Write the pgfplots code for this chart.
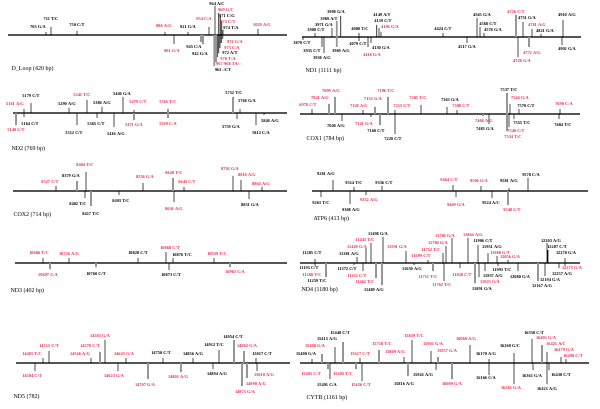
\documentclass[border=0pt]{standalone}
\usepackage{pgfplots}
\pgfplotsset{compat=1.18}
\usepackage{fontspec}
\setmainfont{Liberation Serif}
\definecolor{labelred}{RGB}{232,36,72}
\definecolor{stickgray}{RGB}{150,150,150}
\definecolor{basecol}{RGB}{85,85,85}
\DeclareRobustCommand\R[1]{{\color{labelred}#1}}
\newcommand\lbl{\fontsize{4.4}{4.8}\selectfont\bfseries}
\newcommand\ttl{\fontsize{6}{7}\selectfont}
\pgfplotsset{
  panel/.style={scale only axis, height=120pt, ymin=-60, ymax=60,
    axis x line=middle, axis y line=none, xtick=\empty, ytick=\empty,
    axis line style={-, line width=1.1pt, basecol}, clip=false, anchor=west},
  stickb/.style={ybar, bar width=0.85pt, bar shift=0pt, fill=black, draw=none},
  stickg/.style={ybar, bar width=1.7pt, bar shift=0pt, fill=stickgray, draw=none},
  lbls/.style={only marks, mark=none, nodes near coords, point meta=explicit symbolic,
    every node near coord/.append style={anchor=center, inner sep=0pt, font=\lbl}},
}
\begin{document}
\begin{tikzpicture}
\path[use as bounding box] (0,0) rectangle (600pt,408pt);
% ---------------- D-loop
\def\yB{35}
\begin{axis}[panel, at={(8pt,373pt)}, width=279pt, xmin=8, xmax=287]
\addplot[stickb] table[x=x, y expr=\yB-\thisrow{y}] {
x y
46 32
51 27
77 31
165 32
174 44
188 32
209 27
215 6
218.7 13
220.3 16
221.7 21
223 30
217.3 57
218.7 53
220 48
221.3 43
222.7 39
258 29
};
\addplot[stickg] table[x=x, y expr=\yB-\thisrow{y}] {
x y
201 42
203 44
214.3 66
216 62
};
\addplot[lbls] table[x=x, y expr=\yB-\thisrow{y}, meta=l, col sep=comma] {
x,y,l
38,27,703 G/A
51,19,711 T/C
77,25,750 C/T
164,26,\R{886 A/G}
172,51,\R{901 G/A}
188,27,921 G/A
194,47,945 C/A
200,54,942 G/A
204,19,\R{954 C/A}
217,4,964 A/C
226,10,\R{969 G/C}
227,16,971 C/G
228,22,\R{973 C/T}
231,28,974 T/A
235,42,\R{976 G/A}
232,48,\R{975 C/A}
230,53,972 A/T
228,59,\R{970 T/A}
229,64,\R{967-968 TA/-{}-}
223,70,963 -/CT
262,25.5,\R{1029 A/G}
};
\node[font=\ttl, anchor=west] at (axis cs:8,-34) {D\_Loop (420 bp)};
\end{axis}
% ---------------- ND1
\def\yB{37}
\begin{axis}[panel, at={(302pt,371pt)}, width=279pt, xmin=302, xmax=581]
\addplot[stickb] table[x=x, y expr=\yB-\thisrow{y}] {
x y
303 40
315 33
322 47
324 53
332 28
340.7 16
359 33
359 41
368 47
371 43
376.7 25
379 28
381 32
443 33
467 43
477 18
480 27
484 33
518 57
523 22
532 29
541 34
563 20
562 45
};
\addplot[stickg] table[x=x, y expr=\yB-\thisrow{y}] {
x y
336.7 21
336.7 47
516 15
529 47
};
\addplot[lbls] table[x=x, y expr=\yB-\thisrow{y}, meta=l, col sep=comma] {
x,y,l
302,43,3870 C/T
316,30,3900 C/T
324,25,3971 G/A
329,19,3989 A/T
336,12,3998 G/A
312,51,3935 C/T
322,58,3938 A/G
341,51,3989 A/G
360,29,4080 T/C
358,44,4079 C/T
372,55,\R{4118 G/A}
381,48,4130 G/A
382,15,4149 A/T
383,21,4159 C/T
390,27,\R{4196 G/A}
443,29,4424 C/T
467,47,4517 G/A
482,15,4565 G/A
488,24,4568 C/T
493,30,4578 G/A
516,12,\R{4716 C/T}
522,61,\R{4728 G/A}
527,18,4751 G/A
532,53,\R{4772 A/G}
537,25,\R{4781 A/G}
545,31,4821 G/A
567,15,4910 A/G
567,49,4902 G/A
};
\node[font=\ttl, anchor=west] at (axis cs:302,-34) {ND1 (1111 bp)};
\end{axis}
% ---------------- ND2
\def\yB{113}
\begin{axis}[panel, at={(13pt,295pt)}, width=274pt, xmin=13, xmax=287]
\addplot[stickb] table[x=x, y expr=\yB-\thisrow{y}] {
x y
24 109
24 117
31 103
69 108
77 125
87 100
97 118
102 107
114 127
123 97
134 110
237 119
240 109
256 125
264 115
};
\addplot[stickg] table[x=x, y expr=\yB-\thisrow{y}] {
x y
16 125
134 120
168 109
168 118
233 97
};
\addplot[lbls] table[x=x, y expr=\yB-\thisrow{y}, meta=l, col sep=comma] {
x,y,l
15,104,\R{5161 A/G}
16,130,\R{5140 C/T}
31,96,5179 C/T
30,124,5164 C/T
67,104,5290 A/G
74,133,5312 C/T
82,95,\R{5341 T/C}
96,124,5365 C/T
102,103,5380 A/G
116,134,5416 A/G
122,94,5440 G/A
138,102,\R{5479 C/T}
134,125,\R{5471 G/A}
168,102,\R{5565 T/C}
168,124,\R{5569 C/A}
234,93,5752 T/C
231,127,5759 G/A
247,101,5768 G/A
261,133,5812 C/A
270,121,5840 A/G
};
\node[font=\ttl, anchor=west] at (axis cs:8,-36) {ND2 (769 bp)};
\end{axis}
% ---------------- COX1
\def\yB{114}
\begin{axis}[panel, at={(300pt,294pt)}, width=280pt, xmin=300, xmax=580]
\addplot[stickb] table[x=x, y expr=\yB-\thisrow{y}] {
x y
312 109
342 121
363 110
371 117
395 110
395 134
421 105
447 107
457 110
489 124
509 127
510 104
514 119
519 109
560 109
559 119
};
\addplot[stickg] table[x=x, y expr=\yB-\thisrow{y}] {
x y
329 104
335 97
375 107
380 125
388 97
483 116
507 93
507 131
};
\addplot[lbls] table[x=x, y expr=\yB-\thisrow{y}, meta=l, col sep=comma] {
x,y,l
308,105,\R{6978 C/T}
320,98,\R{7021 A/G}
331,91,\R{7099 A/G}
336,126,7040 A/G
359,106,\R{7120 A/G}
364,124,\R{7141 G/A}
373,99,\R{7153 G/A}
376,131,7160 C/T
386,91,\R{7196 T/C}
402,106,\R{7213 C/T}
393,139,7220 C/T
418,98,\R{7305 T/C}
450,100,7363 G/A
461,106,\R{7398 C/T}
484,121,\R{7468 A/G}
485,129,7483 G/A
509,90,7537 T/C
513,137,\R{7534 T/C}
516,131,\R{7540 C/T}
520,98,\R{7544 G/A}
522,123,7555 T/C
526,106,7570 C/T
564,104,\R{7690 C/A}
563,125,7684 T/C
};
\node[font=\ttl, anchor=west] at (axis cs:303,-25) {COX1 (784 bp)};
\end{axis}
% ---------------- COX2
\def\yB{191}
\begin{axis}[panel, at={(13pt,217pt)}, width=274pt, xmin=13, xmax=287]
\addplot[stickb] table[x=x, y expr=\yB-\thisrow{y}] {
x y
56 186
86 172
85 198
119 195
143 183
174 202
184 187
233 176
241 180
249 199
262 187
};
\addplot[stickg] table[x=x, y expr=\yB-\thisrow{y}] {
x y
77 181
91 206
173 178
};
\addplot[lbls] table[x=x, y expr=\yB-\thisrow{y}, meta=l, col sep=comma] {
x,y,l
50,182,\R{8327 C/T}
71,176,8379 G/A
85,165,\R{8404 T/C}
78,204,8402 T/C
91,214,8417 T/C
121,201,8493 T/C
145,177,\R{8556 G/A}
174,173,\R{8628 T/C}
174,209,\R{8636 A/G}
187,182,\R{8643 C/T}
230,169,\R{8792 G/A}
247,175,\R{8810 A/G}
250,205,8831 G/A
261,184,\R{8864 A/G}
};
\node[font=\ttl, anchor=west] at (axis cs:10,-24) {COX2 (714 bp)};
\end{axis}
% ---------------- ATP6
\def\yB{191}
\begin{axis}[panel, at={(312pt,217pt)}, width=276pt, xmin=312, xmax=588]
\addplot[stickb] table[x=x, y expr=\yB-\thisrow{y}] {
x y
321 197
333 180
350 204
354 187
366 195
382 186
453 185
456 197
481 186
492 198
509 188
528 178
};
\addplot[stickg] table[x=x, y expr=\yB-\thisrow{y}] {
x y
508 205
};
\addplot[lbls] table[x=x, y expr=\yB-\thisrow{y}, meta=l, col sep=comma] {
x,y,l
321,203,9263 T/C
326,174,9281 A/G
351,210,9308 A/G
354,183,9314 T/C
369,200,\R{9332 A/G}
384,183,9336 C/T
449,180,\R{9464 C/T}
456,205,\R{9469 G/A}
479,181,\R{9506 G/A}
491,203,9524 A/C
509,181,9581 A/G
512,210,\R{9548 C/T}
531,175,9578 C/A
};
\node[font=\ttl, anchor=west] at (axis cs:310,-28) {ATP6 (413 bp)};
\end{axis}
% ---------------- ND3
\def\yB{263}
\begin{axis}[panel, at={(15pt,145pt)}, width=272pt, xmin=15, xmax=287]
\addplot[stickb] table[x=x, y expr=\yB-\thisrow{y}] {
x y
43 258
69 258
138 258
166 252
169 270
173 258
214 258
};
\addplot[stickg] table[x=x, y expr=\yB-\thisrow{y}] {
x y
50 269
96 267
230 267
};
\addplot[lbls] table[x=x, y expr=\yB-\thisrow{y}, meta=l, col sep=comma] {
x,y,l
39,253,\R{10686 T/C}
48,275,\R{10697 C/A}
69,254,\R{10726 A/G}
96,274,10760 C/T
138,253,10828 C/T
170,248,\R{10868 C/T}
171,275,10873 C/T
182,255,10876 T/C
217,254,\R{10939 T/C}
235,272,\R{10963 C/A}
};
\node[font=\ttl, anchor=west] at (axis cs:7,-28) {ND3 (402 bp)};
\end{axis}
% ---------------- ND4
\def\yB{263}
\begin{axis}[panel, at={(300pt,145pt)}, width=280pt, xmin=300, xmax=580]
\addplot[stickb] table[x=x, y expr=\yB-\thisrow{y}] {
x y
315 259
315 266
357 257
354 265
383 237
371 243
366 248
363 271
406 251
414 265
428 260
443 253
446 246
452 238
444 281
468 238
460 268
478 245
488 253
479 277
485 271
497 256
498 266
508 260
518 271
547 243
548 250
565 258
565 266
559 268
545 276
};
\addplot[stickg] table[x=x, y expr=\yB-\thisrow{y}] {
x y
326 277
376 278
382 285
433 271
475 283
538 281
};
\addplot[lbls] table[x=x, y expr=\yB-\thisrow{y}, meta=l, col sep=comma] {
x,y,l
312,253,11285 C/T
309,268,11195 C/T
312,275,\R{11280 T/C}
317,281,11259 T/C
378,234,11498 G/A
365,240.5,\R{11443 T/C}
357,247,\R{11420 G/A}
349,254,11381 A/G
347,269,11372 C/T
357,276,\R{11411 C/T}
365,282,\R{11462 T/C}
374,290,11489 A/G
397,247,\R{11591 G/A}
412,269,11630 A/G
421,256,\R{11699 C/T}
428,277,\R{11711 T/C}
431,250,\R{11752 T/C}
438,243,\R{11780 G/A}
445,236,\R{11786 G/A}
442,285,\R{11762 T/C}
473,235,\R{11864 A/G}
462,275,\R{11828 C/T}
483,241,11906 C/T
492,247,11951 A/G
482,289,11891 G/A
490,282,\R{11923 G/A}
493,276,11937 A/G
500,253,\R{11988 G/T}
502,270,11993 T/C
510,257,\R{12056 G/A}
520,277,12080 G/A
551,241,12203 A/G
557,247,12207 C/T
566,253,12270 G/A
572,268,\R{12275 G/A}
562,274,12257 A/G
550,280,12194 G/A
542,286,12167 A/G
};
\node[font=\ttl, anchor=west] at (axis cs:298,-27) {ND4 (1180 bp)};
\end{axis}
% ---------------- ND5
\def\yB{363}
\begin{axis}[panel, at={(16pt,45pt)}, width=274pt, xmin=16, xmax=290]
\addplot[stickb] table[x=x, y expr=\yB-\thisrow{y}] {
x y
43 358
49 351
35 371
105 340
91 358
126 358
118 371
163 358
193 358
213 369
219 350
256 358
257 371
};
\addplot[stickg] table[x=x, y expr=\yB-\thisrow{y}] {
x y
100 352
148 379
181 372
234 340
244 351
242 386
247 378
};
\addplot[lbls] table[x=x, y expr=\yB-\thisrow{y}, meta=l, col sep=comma] {
x,y,l
32,354,\R{14485 T/C}
49,346,\R{14515 C/T}
32,376,\R{14504 C/T}
100,336,\R{14583 G/A}
90,346,\R{14570 C/T}
80,354,\R{14546 A/G}
124,354,\R{14645 G/A}
114,376,\R{14623 G/A}
145,385,\R{14707 G/A}
161,353,14750 C/T
178,377,\R{14801 A/G}
193,354,14856 A/G
217,374,14894 A/G
214,345,14912 T/C
233,337,14954 C/T
247,346,\R{14982 G/A}
245,392,\R{14975 G/A}
256,384,\R{14990 A/G}
262,354,15017 C/T
264,375,\R{15018 A/G}
};
\node[font=\ttl, anchor=west] at (axis cs:10,-34) {ND5 (782)};
\end{axis}
% ---------------- CYTB
\def\yB{363}
\begin{axis}[panel, at={(300pt,45pt)}, width=289pt, xmin=300, xmax=589]
\addplot[stickb] table[x=x, y expr=\yB-\thisrow{y}] {
x y
312 359
335 347
330 379
360 358
362 381
404 357
412 340
431 351
436 370
470 345
489 359
489 375
514 353
514 384
532 339
533 370
547 352
547 384
549 370
561 357
566 359
};
\addplot[stickg] table[x=x, y expr=\yB-\thisrow{y}] {
x y
322 354
343 342
328 369
356 369
379 350
408 376
438 357
452 379
542 345
};
\addplot[lbls] table[x=x, y expr=\yB-\thisrow{y}, meta=l, col sep=comma] {
x,y,l
306,354,15400 G/A
315,346,\R{15408 G/A}
327,339,15415 A/G
340,333,15448 C/T
311,374,\R{15405 C/T}
327,385,15491 C/A
343,374,\R{15602 T/C}
360,354,\R{15617 C/T}
361,385,\R{15626 C/T}
382,344,\R{15718 T/C}
395,352,\R{15809 A/G}
404,384,15816 A/G
414,336,\R{15839 T/C}
433,344,\R{15901 G/A}
423,375,15941 A/G
447,351,\R{15957 G/A}
466,339,\R{16088 A/G}
452,384,\R{16009 G/A}
486,354,16170 A/G
486,378,16166 C/A
510,346,16260 G/C
511,388,\R{16281 G/A}
534,333,16350 C/T
532,376,16361 G/A
546,338,\R{16401 G/A}
556,344,\R{16421 A/C}
547,389,16421 A/G
561,375,16430 C/T
564,350,\R{16479 G/A}
573,356,\R{16498 C/T}
};
\node[font=\ttl, anchor=west] at (axis cs:303,-35) {CYTB (1161 bp)};
\end{axis}
\end{tikzpicture}
\end{document}
